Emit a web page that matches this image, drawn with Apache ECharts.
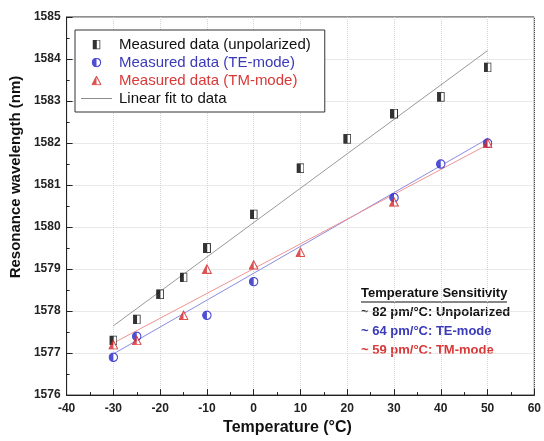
<!DOCTYPE html>
<html>
<head>
<meta charset="utf-8">
<script src="https://cdn.jsdelivr.net/npm/echarts@6/dist/echarts.min.js"></script>
<style>
  html, body { margin: 0; padding: 0; background: #fff; }
  #chart { width: 544px; height: 441px; }
</style>
</head>
<body>
<div id="chart"></div>
<script>
// temperatures (°C) and resonance wavelengths (nm)
var tempUnpol = [-30, -25, -20, -15, -10, 0, 10, 20, 30, 40, 50];
var waveUnpol = [1577.3, 1577.8, 1578.4, 1578.8, 1579.5, 1580.3, 1581.4, 1582.1, 1582.7, 1583.1, 1583.8];

var tempTE = [-30, -25, -10, 0, 30, 40, 50];
var waveTE = [1576.9, 1577.4, 1577.9, 1578.7, 1580.7, 1581.5, 1582.0];

var tempTM = [-30, -25, -15, -10, 0, 10, 30, 50];
var waveTM = [1577.2, 1577.3, 1577.9, 1579.0, 1579.1, 1579.4, 1580.6, 1582.0];

// fitted lines, end points as drawn
var fitTemp = [-30, 50];
var fitUnpol = [1577.65, 1584.2];
var fitTE = [1576.98, 1582.1];
var fitTM = [1577.24, 1581.96];

var legendNames = ['Measured data (unpolarized)', 'Measured data (TE-mode)', 'Measured data (TM-mode)', 'Linear fit to data'];
var noteLines = ['~ 82 pm/°C: Unpolarized', '~ 64 pm/°C: TE-mode', '~ 59 pm/°C: TM-mode'];

var BLUE = '#2424c8';
var RED = '#d42828';

function svgIcon(body, w, h) {
  var s = "<svg xmlns='http://www.w3.org/2000/svg' width='" + w + "' height='" + h + "'>" + body + "</svg>";
  return 'image://data:image/svg+xml;charset=utf-8,' + encodeURIComponent(s);
}

var squareIcon = svgIcon(
  "<rect x='0.5' y='0.5' width='7' height='9' fill='white' stroke='black'/>" +
  "<rect x='0.5' y='0.5' width='3.8' height='9' fill='black'/>", 8, 10);
var circleIcon = svgIcon(
  "<circle cx='5' cy='5' r='4.2' fill='white' stroke='" + BLUE + "' stroke-width='1.2'/>" +
  "<path d='M5,0.8 A4.2,4.2 0 0 0 5,9.2 Z' fill='" + BLUE + "'/>", 10, 10);
var triIcon = svgIcon(
  "<polygon points='5,0.8 9.4,9.3 0.6,9.3' fill='white' stroke='" + RED + "' stroke-width='1.1'/>" +
  "<polygon points='5,0.8 5,9.3 0.6,9.3' fill='" + RED + "'/>", 10, 10);

function pairs(xs, ys) {
  var out = [];
  for (var i = 0; i < xs.length; i++) {
    out.push([xs[i], ys[i]]);
  }
  return out;
}

var chart = echarts.init(document.getElementById('chart'), null, { renderer: 'canvas' });

var axisCommon = {
  type: 'value',
  axisLine: { show: true, onZero: false, lineStyle: { color: '#222', width: 1 } },
  axisTick: { show: true, inside: true, length: 6, lineStyle: { color: '#222' } },
  minorTick: { show: true, splitNumber: 2, length: 3, lineStyle: { color: '#222' } },
  splitLine: { show: true, lineStyle: { color: '#d4d4d4', type: 'dotted' } },
  axisLabel: {
    color: '#222', fontFamily: 'Liberation Sans, Arial', fontWeight: 'bold', fontSize: 12,
    formatter: function (v) { return String(v); }
  },
  nameLocation: 'middle'
};

var nameFont = { color: '#111', fontFamily: 'Liberation Sans, Arial', fontWeight: 'bold', fontSize: 16 };

var option = {
  backgroundColor: '#fff',
  animation: false,
  grid: {
    left: 62, right: 6, top: 17, bottom: 37,
    show: true, borderColor: '#222', borderWidth: 1, backgroundColor: 'transparent'
  },
  xAxis: Object.assign({}, axisCommon, {
    min: -40, max: 60, interval: 10,
    name: 'Temperature (°C)', nameGap: 22,
    nameTextStyle: Object.assign({}, nameFont, { padding: [0, 26, 0, 0] })
  }),
  yAxis: Object.assign({}, axisCommon, {
    min: 1576, max: 1585, interval: 1,
    name: 'Resonance wavelength (nm)', nameGap: 43,
    nameTextStyle: Object.assign({}, nameFont, { fontSize: 15, padding: [0, 0, 0, 58] }),
    axisLabel: Object.assign({}, axisCommon.axisLabel, { margin: 6 })
  }),
  legend: {
    orient: 'vertical',
    left: 75, top: 30,
    padding: [7, 14, 6, 6],
    itemGap: 3,
    itemWidth: 31, itemHeight: 10,
    backgroundColor: '#fff',
    borderColor: '#333', borderWidth: 1,
    textStyle: { fontFamily: 'Liberation Sans, Arial', fontSize: 15, color: '#111', padding: [0, 0, 0, 2] },
    data: [
      { name: legendNames[0], icon: squareIcon, textStyle: { color: '#111' } },
      { name: legendNames[1], icon: circleIcon, textStyle: { color: '#3a3ab8' } },
      { name: legendNames[2], icon: triIcon, textStyle: { color: '#d83838' } },
      {
        name: legendNames[3], icon: 'path://M0,0 H32 V1 H0 Z',
        itemStyle: { color: '#8a8a8a', borderWidth: 0 }, textStyle: { color: '#111' }
      }
    ]
  },
  graphic: [
    {
      type: 'text', left: 361, top: 287,
      style: { text: 'Temperature Sensitivity', fill: '#111', font: 'bold 13px "Liberation Sans", Arial' }
    },
    {
      type: 'line', shape: { x1: 361, y1: 302, x2: 507, y2: 302 },
      style: { stroke: '#111', lineWidth: 1 }
    },
    {
      type: 'text', left: 361, top: 306,
      style: { text: noteLines[0], fill: '#111', font: 'bold 13px "Liberation Sans", Arial' }
    },
    {
      type: 'text', left: 361, top: 325,
      style: { text: noteLines[1], fill: '#3a3ab8', font: 'bold 13px "Liberation Sans", Arial' }
    },
    {
      type: 'text', left: 361, top: 344,
      style: { text: noteLines[2], fill: '#d83838', font: 'bold 13px "Liberation Sans", Arial' }
    }
  ],
  series: [
    {
      name: legendNames[3], type: 'line', data: pairs(fitTemp, fitUnpol),
      symbol: 'none', color: '#9a9a9a', lineStyle: { color: '#9a9a9a', width: 1 }, z: 1
    },
    {
      name: legendNames[3], type: 'line', data: pairs(fitTemp, fitTE),
      symbol: 'none', color: '#8c8ce0', lineStyle: { color: '#8c8ce0', width: 1 }, z: 1
    },
    {
      name: legendNames[3], type: 'line', data: pairs(fitTemp, fitTM),
      symbol: 'none', color: '#f09494', lineStyle: { color: '#f09494', width: 1 }, z: 1
    },
    {
      name: legendNames[0], type: 'scatter', data: pairs(tempUnpol, waveUnpol),
      symbol: squareIcon, symbolSize: [8, 10], color: '#111', z: 3
    },
    {
      name: legendNames[1], type: 'scatter', data: pairs(tempTE, waveTE),
      symbol: circleIcon, symbolSize: [10, 10], color: BLUE, z: 3
    },
    {
      name: legendNames[2], type: 'scatter', data: pairs(tempTM, waveTM),
      symbol: triIcon, symbolSize: [10, 10], color: RED, z: 4
    }
  ]
};

chart.setOption(option);
</script>
</body>
</html>
